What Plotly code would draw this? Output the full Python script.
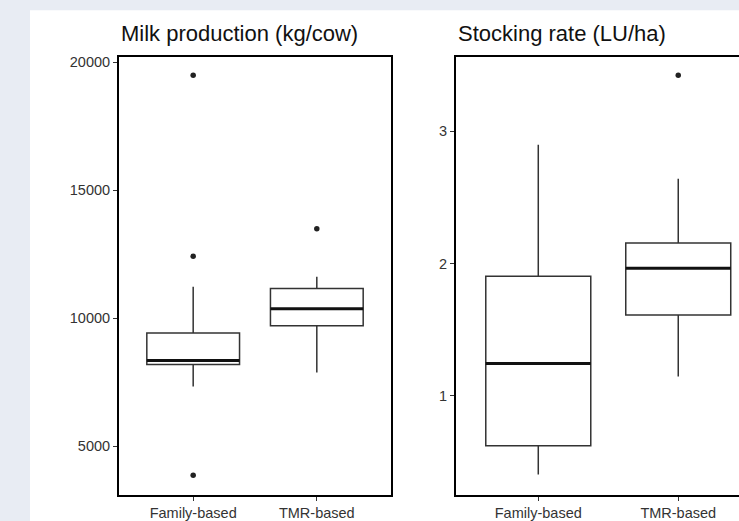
import plotly.graph_objects as go

# ---------------- data ----------------
categories = ["Family-based", "TMR-based"]
cat_pos = [1, 2]

milk_low = [7338, 7884]
milk_q1 = [8195, 9715]
milk_median = [8351, 10378]
milk_q3 = [9427, 11169]
milk_high = [11235, 11625]
milk_outliers_family = [19493, 12424, 3870]
milk_outliers_tmr = [13504]

stock_low = [0.406, 1.146]
stock_q1 = [0.624, 1.612]
stock_median = [1.246, 1.965]
stock_q3 = [1.905, 2.156]
stock_high = [2.898, 2.642]
stock_outliers_family = []
stock_outliers_tmr = [3.424]

milk_ticks = [5000, 10000, 15000, 20000]
milk_tick_labels = ["5000", "10000", "15000", "20000"]
stock_ticks = [1, 2, 3]
stock_tick_labels = ["1", "2", "3"]

titles = ["Milk production (kg/cow)", "Stocking rate (LU/ha)"]

# ---------------- styling ----------------
FONT = "Liberation Sans, Arial, sans-serif"
BOX_W = 0.75
LINE_C = "#333333"

fig = go.Figure()

panels = [
    dict(xa="x", ya="y", low=milk_low, q1=milk_q1, med=milk_median, q3=milk_q3,
         high=milk_high, outs=[milk_outliers_family, milk_outliers_tmr]),
    dict(xa="x2", ya="y2", low=stock_low, q1=stock_q1, med=stock_median, q3=stock_q3,
         high=stock_high, outs=[stock_outliers_family, stock_outliers_tmr]),
]

for p in panels:
    fig.add_trace(go.Box(
        x=cat_pos, q1=p["q1"], median=p["med"], q3=p["q3"],
        lowerfence=p["low"], upperfence=p["high"],
        width=BOX_W, whiskerwidth=0, boxpoints=False,
        fillcolor="white", line=dict(color=LINE_C, width=1.5),
        xaxis=p["xa"], yaxis=p["ya"], showlegend=False, hoverinfo="skip",
    ))
    # thicker median line (ggplot fatten)
    for c, m in zip(cat_pos, p["med"]):
        fig.add_trace(go.Scatter(
            x=[c - BOX_W / 2, c + BOX_W / 2], y=[m, m], mode="lines",
            line=dict(color="#111111", width=3),
            xaxis=p["xa"], yaxis=p["ya"], showlegend=False, hoverinfo="skip",
        ))
    for c, outs in zip(cat_pos, p["outs"]):
        if outs:
            fig.add_trace(go.Scatter(
                x=[c] * len(outs), y=outs, mode="markers",
                marker=dict(color="#222222", size=5.5),
                xaxis=p["xa"], yaxis=p["ya"], showlegend=False, hoverinfo="skip",
            ))

axis_common = dict(
    showgrid=False, zeroline=False, showline=True, linecolor="black", linewidth=2,
    ticks="outside", ticklen=4, tickwidth=1.2, tickcolor=LINE_C,
    tickfont=dict(family=FONT, size=14.5, color="#333333"),
)

fig.update_layout(
    width=739, height=521,
    margin=dict(l=119, r=0, t=57, b=24),
    paper_bgcolor="#e8ecf3",
    plot_bgcolor="white",
    font=dict(family=FONT),
    xaxis=dict(domain=[0, 0.4387], range=[0.4, 2.6], tickvals=cat_pos,
               ticktext=categories, mirror=True, anchor="y", **axis_common),
    yaxis=dict(domain=[0, 1], range=[3102, 20207], tickvals=milk_ticks,
               ticktext=milk_tick_labels, mirror=True, anchor="x", **axis_common),
    xaxis2=dict(domain=[0.5435, 1], range=[0.412, 2.434], tickvals=cat_pos,
                ticktext=categories, mirror=True, anchor="y2", **axis_common),
    yaxis2=dict(domain=[0, 1], range=[0.251, 3.562], tickvals=stock_ticks,
                ticktext=stock_tick_labels, mirror=False, anchor="x2", **axis_common),
    shapes=[dict(type="rect", xref="paper", yref="paper",
                 x0=(30 - 119) / 620, x1=1.05, y0=-0.2, y1=1 + 47 / 440,
                 fillcolor="white", line=dict(width=0), layer="below")],
    annotations=[
        dict(text=titles[0], xref="paper", yref="paper", x=0.0, y=1.0545,
             xanchor="left", yanchor="middle", showarrow=False,
             font=dict(family=FONT, size=22, color="#111111")),
        dict(text=titles[1], xref="paper", yref="paper", x=0.5435, y=1.0545,
             xanchor="left", yanchor="middle", showarrow=False,
             font=dict(family=FONT, size=22, color="#111111")),
    ],
)

fig.write_html(
    "out.html",
    config={"displayModeBar": False},
    post_script="document.body.style.margin='0px';document.body.style.overflow='hidden';",
)
